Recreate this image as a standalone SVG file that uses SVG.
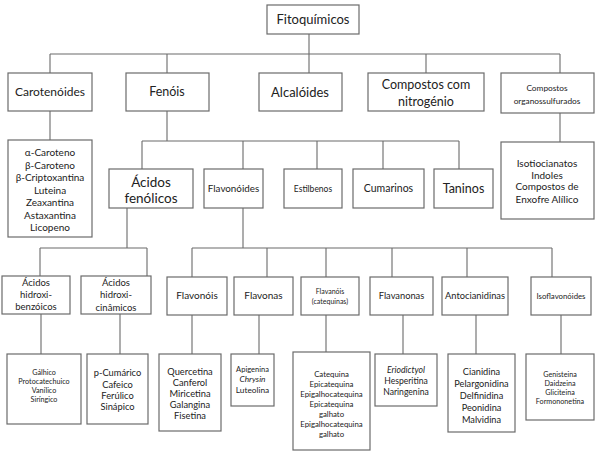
<svg xmlns="http://www.w3.org/2000/svg" width="602" height="454" viewBox="0 0 602 454">
<style>
rect{fill:#fff;stroke:#6b6b6b;stroke-width:1.2}
#connectors path{fill:none;stroke:#6b6b6b;stroke-width:1.1}
text{font-family:Lato,"Open Sans","Liberation Sans",sans-serif;fill:#222;text-anchor:middle}
.it{font-style:italic}
</style>
<rect x="0" y="0" width="602" height="454" style="stroke:none"/>
<g id="connectors">
<path d="M309 34V73M50 54H560M50 54V73M167 54V73M426 54V73M560 54V73"/>
<path d="M50 111V140M560 113V142"/>
<path d="M167 111V141M142 141H459M142 141V169M243 141V169M317 141V169M383 141V169M459 141V169"/>
<path d="M127 208V248M40 248H147M40 248V276M147 248V276"/>
<path d="M243 208V248M192 248H552M192 248V277M267 248V277M326 248V277M392 248V277M467 248V277M552 248V277"/>
<path d="M41 314V354M120 314V354M192 315V354M259 315V354M326 315V352M403 315V354M476 315V354M561 315V354"/>
</g>
<g id="fitoquimicos"><rect x="267" y="5" width="92" height="29"/><text x="313" y="24" font-size="13">Fitoquímicos</text></g>
<g id="carotenoides"><rect x="8" y="73" width="84" height="38"/><text x="50" y="96" font-size="12">Carotenóides</text></g>
<g id="fenois"><rect x="126" y="73" width="83" height="38"/><text x="167" y="96" font-size="12.5">Fenóis</text></g>
<g id="alcaloides"><rect x="259" y="73" width="83" height="38"/><text x="300" y="97" font-size="13">Alcalóides</text></g>
<g id="nitrogenio"><rect x="368" y="73" width="116" height="38"/><text x="426" y="89" font-size="12.5">Compostos com</text><text x="426" y="106" font-size="12.5">nitrogénio</text></g>
<g id="organossulfurados"><rect x="501" y="73" width="93" height="40"/><text x="547" y="91" font-size="8.3">Compostos</text><text x="547" y="104" font-size="8.3">organossulfurados</text></g>
<g id="carotenoides-lista"><rect x="8" y="140" width="84" height="97"/>
<text font-size="10" x="50"><tspan x="50" y="156">α-Caroteno</tspan><tspan x="50" y="168.5">β-Caroteno</tspan><tspan x="50" y="181">β-Criptoxantina</tspan><tspan x="50" y="193.5">Luteina</tspan><tspan x="50" y="206">Zeaxantina</tspan><tspan x="50" y="218.5">Astaxantina</tspan><tspan x="50" y="231">Licopeno</tspan></text></g>
<g id="organossulfurados-lista"><rect x="501" y="142" width="93" height="77"/>
<text font-size="10" x="547"><tspan x="547" y="167">Isotiocianatos</tspan><tspan x="547" y="178.5">Indoles</tspan><tspan x="547" y="190">Compostos de</tspan><tspan x="547" y="202.5">Enxofre Alílico</tspan></text></g>
<g id="acidos-fenolicos"><rect x="109" y="169" width="84" height="39"/><text x="151" y="187" font-size="13.5">Ácidos</text><text x="151" y="203" font-size="13.5">fenólicos</text></g>
<g id="flavonoides"><rect x="204" y="169" width="59" height="39"/><text x="233.5" y="192" font-size="9.8">Flavonóides</text></g>
<g id="estilbenos"><rect x="284" y="169" width="58" height="39"/><text x="313" y="192" font-size="8.5">Estilbenos</text></g>
<g id="cumarinos"><rect x="353" y="169" width="71" height="39"/><text x="388.5" y="192" font-size="10.5">Cumarinos</text></g>
<g id="taninos"><rect x="434" y="169" width="59" height="39"/><text x="463.5" y="193" font-size="12.5">Taninos</text></g>
<g id="hidroxibenzoicos"><rect x="2" y="276" width="68" height="38"/><text font-size="9.5"><tspan x="36" y="286">Ácidos</tspan><tspan x="36" y="298">hidroxi-</tspan><tspan x="36" y="310">benzóicos</tspan></text></g>
<g id="hidroxicinamicos"><rect x="81" y="276" width="70" height="38"/><text font-size="9.5"><tspan x="116" y="286">Ácidos</tspan><tspan x="116" y="298">hidroxi-</tspan><tspan x="116" y="311">cinâmicos</tspan></text></g>
<g id="flavonois"><rect x="167" y="277" width="60" height="38"/><text x="197" y="299" font-size="10">Flavonóis</text></g>
<g id="flavonas"><rect x="234" y="277" width="59" height="38"/><text x="263.5" y="299" font-size="10">Flavonas</text></g>
<g id="flavanois"><rect x="301" y="277" width="58" height="38"/><text font-size="7"><tspan x="330" y="294">Flavanóis</tspan><tspan x="330" y="304">(catequinas)</tspan></text></g>
<g id="flavanonas"><rect x="370" y="277" width="63" height="38"/><text x="401.5" y="299" font-size="9.3">Flavanonas</text></g>
<g id="antocianidinas"><rect x="442" y="277" width="66" height="38"/><text x="475" y="299" font-size="9.3">Antocianidinas</text></g>
<g id="isoflavonoides"><rect x="531" y="277" width="60" height="38"/><text x="561" y="299" font-size="7.8">Isoflavonóides</text></g>
<g id="benzoicos-lista"><rect x="7" y="354" width="74" height="70"/><text font-size="7.2"><tspan x="44" y="375">Gálhico</tspan><tspan x="44" y="384">Protocatechuico</tspan><tspan x="44" y="393">Vanílico</tspan><tspan x="44" y="402">Siríngico</tspan></text></g>
<g id="cinamicos-lista"><rect x="87" y="354" width="61" height="70"/><text font-size="9.3"><tspan x="117.5" y="376">p-Cumárico</tspan><tspan x="117.5" y="387.5">Cafeico</tspan><tspan x="117.5" y="398.5">Ferúlico</tspan><tspan x="117.5" y="409.5">Sinápico</tspan></text></g>
<g id="flavonois-lista"><rect x="159" y="354" width="62" height="77"/><text font-size="9.3"><tspan x="190" y="375">Quercetina</tspan><tspan x="190" y="386">Canferol</tspan><tspan x="190" y="397">Miricetina</tspan><tspan x="190" y="408">Galangina</tspan><tspan x="190" y="419">Fisetina</tspan></text></g>
<g id="flavonas-lista"><rect x="231" y="354" width="43" height="52"/><text font-size="7.5"><tspan x="252.5" y="372">Apigenina</tspan><tspan x="252.5" y="382" class="it" font-size="8.3">Chrysin</tspan><tspan x="252.5" y="393" font-size="8.3">Luteolina</tspan></text></g>
<g id="flavanois-lista"><rect x="293" y="352" width="77" height="98"/><text font-size="7.8"><tspan x="331.5" y="377">Catequina</tspan><tspan x="331.5" y="387">Epicatequina</tspan><tspan x="331.5" y="397">Epigalhocatequina</tspan><tspan x="331.5" y="407">Epicatequina</tspan><tspan x="331.5" y="417">galhato</tspan><tspan x="331.5" y="427">Epigalhocatequina</tspan><tspan x="331.5" y="437">galhato</tspan></text></g>
<g id="flavanonas-lista"><rect x="375" y="354" width="62" height="52"/><text font-size="8.6"><tspan x="406" y="373" class="it">Eriodictyol</tspan><tspan x="406" y="384">Hesperitina</tspan><tspan x="406" y="395">Naringenina</tspan></text></g>
<g id="antocianidinas-lista"><rect x="448" y="354" width="67" height="78"/><text font-size="9.2"><tspan x="481.5" y="375">Cianidina</tspan><tspan x="481.5" y="387">Pelargonidina</tspan><tspan x="481.5" y="399">Delfinidina</tspan><tspan x="481.5" y="411">Peonidina</tspan><tspan x="481.5" y="423">Malvidina</tspan></text></g>
<g id="isoflavonoides-lista"><rect x="526" y="354" width="68" height="66"/><text font-size="7.2"><tspan x="560" y="377">Genisteina</tspan><tspan x="560" y="386">Daidzeina</tspan><tspan x="560" y="395">Gliciteina</tspan><tspan x="560" y="404">Formononetina</tspan></text></g>
</svg>
